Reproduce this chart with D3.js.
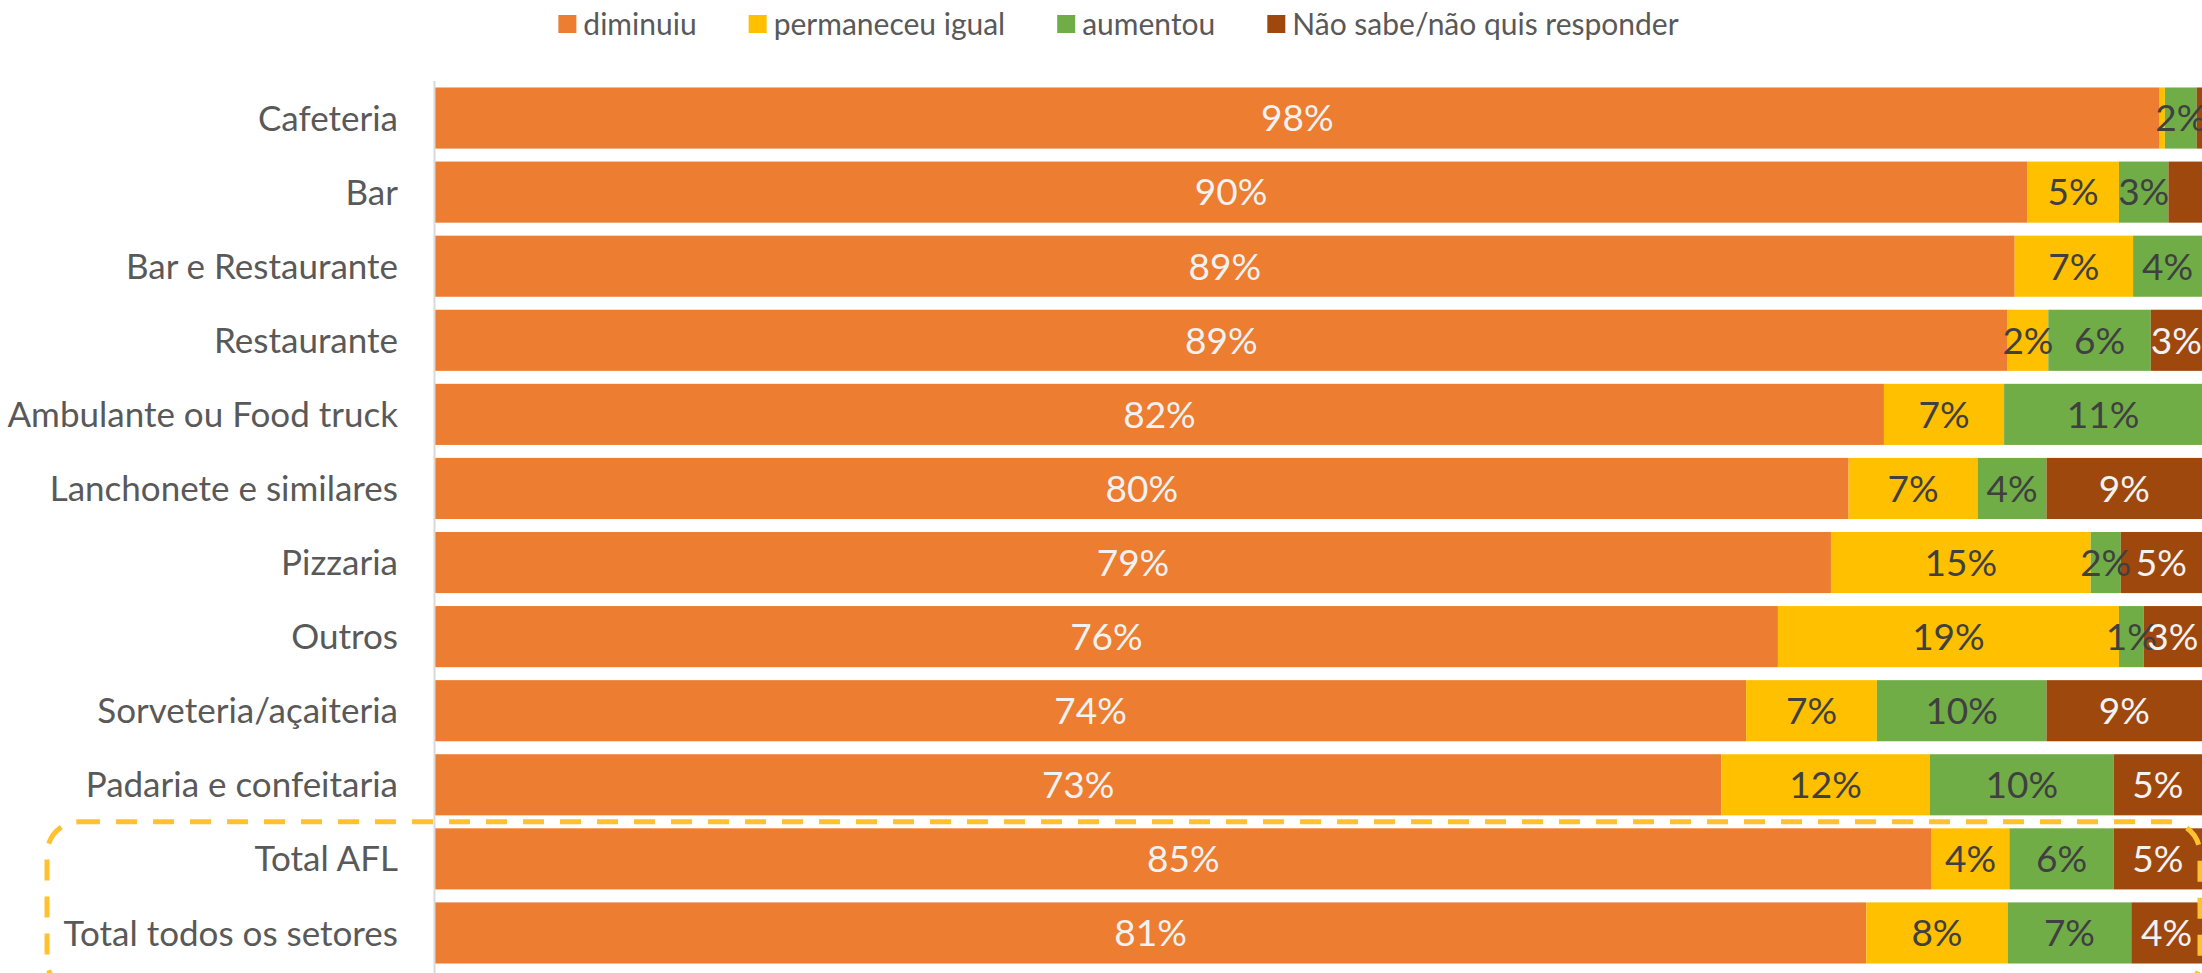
<!DOCTYPE html>
<html>
<head>
<meta charset="utf-8">
<script src="https://cdn.jsdelivr.net/npm/d3@7"></script>
<style>
  html, body { margin: 0; padding: 0; background: #ffffff; }
  svg { display: block; }
</style>
</head>
<body>
<svg id="chart" width="2202" height="973"></svg>
<script>
// ---- data (percent) ----
const categories = ["Cafeteria", "Bar", "Bar e Restaurante", "Restaurante", "Ambulante ou Food truck",
  "Lanchonete e similares", "Pizzaria", "Outros", "Sorveteria/açaiteria", "Padaria e confeitaria",
  "Total AFL", "Total todos os setores"];
const diminuiu   = [97.6, 90.1, 89.4, 89.0, 82.0, 80.0, 79.0, 76.0, 74.2, 72.8, 84.7, 81.0];
const permaneceu = [0.3, 5.2, 6.7, 2.3, 6.8, 7.3, 14.7, 19.3, 7.4, 11.8, 4.4, 8.0];
const aumentou   = [1.8, 2.8, 3.9, 5.8, 11.2, 3.9, 1.7, 1.4, 9.6, 10.4, 5.9, 7.0];
const naoSabe    = [0.3, 1.9, 0.0, 2.9, 0.0, 8.8, 4.6, 3.3, 8.8, 5.0, 5.0, 4.0];
const seriesNames = ["diminuiu", "permaneceu igual", "aumentou", "Não sabe/não quis responder"];
const seriesKeys = ["diminuiu", "permaneceu", "aumentou", "naoSabe"];
const hiddenLabels = [["Bar", "naoSabe"]];
const highlighted = ["Total AFL", "Total todos os setores"];

// ---- styles ----
const colors = { diminuiu: "#ED7D31", permaneceu: "#FFC000", aumentou: "#70AD47", naoSabe: "#9E480E" };
const labelColors = { diminuiu: "#f2f2f2", permaneceu: "#404040", aumentou: "#404040", naoSabe: "#f2f2f2" };
const FONT = "Lato, 'Open Sans', sans-serif";

const rows = categories.map((c, i) => ({
  cat: c, diminuiu: diminuiu[i], permaneceu: permaneceu[i], aumentou: aumentou[i], naoSabe: naoSabe[i]
}));

const svg = d3.select("#chart");
const W = 2202, H = 973;
const margin = { left: 435, right: 0, top: 81, bottom: 3 };

const x = d3.scaleLinear().domain([0, 100]).range([margin.left, W - margin.right]);
const y = d3.scaleBand().domain(categories).range([margin.top, H - margin.bottom])
  .paddingInner(0.175).paddingOuter(0.0875);

const stack = d3.stack().keys(seriesKeys);
const stacked = stack(rows);

// bars
const layers = svg.append("g").selectAll("g").data(stacked).join("g")
  .attr("fill", d => colors[d.key]);
layers.selectAll("rect").data(d => d.map(v => ({ key: d.key, v }))).join("rect")
  .attr("x", d => x(d.v[0]))
  .attr("y", d => y(d.v.data.cat))
  .attr("width", d => Math.max(0, x(d.v[1]) - x(d.v[0])))
  .attr("height", y.bandwidth());

// value labels
const fmt = v => Math.round(v) + "%";
const isHidden = (cat, key) => hiddenLabels.some(h => h[0] === cat && h[1] === key);
const labelsG = svg.append("g").attr("font-family", FONT).attr("font-size", 37).attr("text-anchor", "middle");
stacked.forEach(layer => {
  labelsG.selectAll(null).data(layer.filter(v => (v[1] - v[0]) >= 1 && !isHidden(v.data.cat, layer.key)))
    .join("text")
    .attr("x", v => (x(v[0]) + x(v[1])) / 2)
    .attr("y", v => y(v.data.cat) + y.bandwidth() / 2)
    .attr("dy", "0.36em")
    .attr("fill", labelColors[layer.key])
    .text(v => fmt(v[1] - v[0]));
});

// category axis
const yAxis = d3.axisLeft(y).tickSize(0).tickPadding(37);
const axG = svg.append("g").attr("transform", `translate(${margin.left},0)`).call(yAxis);
axG.select(".domain").remove();
axG.selectAll("text").attr("font-family", FONT).attr("font-size", 35).attr("fill", "#595959").attr("dy", "0.36em");
svg.append("line")
  .attr("x1", margin.left - 0.5).attr("x2", margin.left - 0.5)
  .attr("y1", margin.top).attr("y2", H)
  .attr("stroke", "#d9d9d9").attr("stroke-width", 2);

// dashed highlight around totals
const hTop = y(highlighted[0]) - (y.step() - y.bandwidth()) / 2;
svg.append("rect")
  .attr("x", 47).attr("y", hTop)
  .attr("width", W - 2 - 47).attr("height", 170)
  .attr("rx", 32).attr("ry", 32)
  .attr("fill", "none").attr("stroke", "#FFC12E").attr("stroke-width", 5)
  .attr("stroke-dasharray", "21 16");

// legend
const legend = svg.append("g").attr("font-family", FONT).attr("font-size", 30).attr("fill", "#595959");
const items = legend.selectAll("g").data(seriesKeys).join("g");
items.append("rect").attr("width", 18).attr("height", 18).attr("y", 15).attr("fill", k => colors[k]);
items.append("text").attr("x", 25).attr("y", 35).text((k, i) => seriesNames[i]);
let cx = 0;
const pos = [];
items.each(function () {
  pos.push(cx);
  const tw = d3.select(this).select("text").node().getComputedTextLength();
  cx += 25 + tw + 52;
});
const total = cx - 52;
const start = 1118.5 - total / 2;
items.attr("transform", (k, i) => `translate(${start + pos[i]},0)`);
</script>
</body>
</html>
